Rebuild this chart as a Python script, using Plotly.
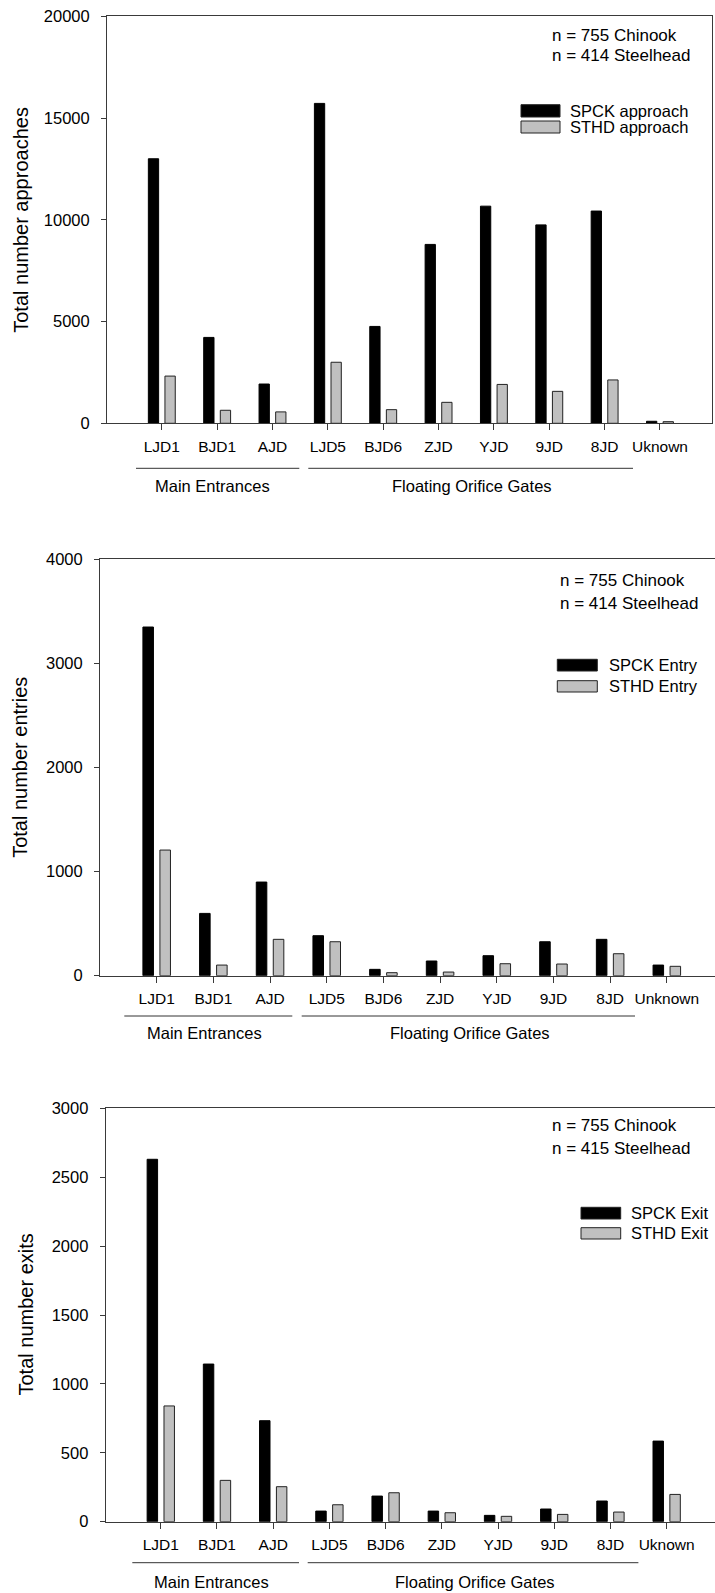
import plotly.graph_objects as go

# ---------------- data ----------------
cats_a = ["LJD1", "BJD1", "AJD", "LJD5", "BJD6", "ZJD", "YJD", "9JD", "8JD", "Uknown"]
cats_b = ["LJD1", "BJD1", "AJD", "LJD5", "BJD6", "ZJD", "YJD", "9JD", "8JD", "Unknown"]
cats_c = ["LJD1", "BJD1", "AJD", "LJD5", "BJD6", "ZJD", "YJD", "9JD", "8JD", "Uknown"]

approach_spck = [13000, 4220, 1930, 15720, 4760, 8790, 10670, 9750, 10430, 100]
approach_sthd = [2320, 640, 560, 3000, 670, 1030, 1910, 1570, 2130, 80]
entry_spck = [3347, 598, 899, 384, 61, 141, 192, 326, 349, 102]
entry_sthd = [1206, 102, 349, 326, 29, 35, 115, 112, 211, 90]
exit_spck = [2630, 1144, 733, 77, 186, 77, 46, 92, 150, 585]
exit_sthd = [840, 300, 254, 123, 210, 65, 39, 53, 70, 198]

y_titles = ["Total number approaches", "Total number entries", "Total number exits"]
legend_a = ["SPCK approach", "STHD approach"]
legend_b = ["SPCK Entry", "STHD Entry"]
legend_c = ["SPCK Exit", "STHD Exit"]
n_text_a = ["n = 755 Chinook", "n = 414 Steelhead"]
n_text_b = ["n = 755 Chinook", "n = 414 Steelhead"]
n_text_c = ["n = 755 Chinook", "n = 415 Steelhead"]
groups = ["Main Entrances", "Floating Orifice Gates"]

# ---------------- layout helpers ----------------
W, H = 715, 1593
FONT = "Liberation Sans, Arial, sans-serif"
AX = "#3a3a3a"
GRAY = "#c0c0c0"


def px(x):
    return x / W


def py(y):
    return 1 - y / H


panels = [
    dict(cats=cats_a, s1=approach_spck, s2=approach_sthd, title=y_titles[0], leg=legend_a, ntxt=n_text_a,
         xdom=[107, 712], ydom=[16.3, 423.3], xr=[-0.99, 9.94], yr=[0, 20000], dt=5000, mirror_y=True,
         title_x=21, n_x=550, n_y=[35.5, 55.5], sw_x=[521, 560], sw_y=[(104.7, 117), (121, 133)],
         lt_x=568, lt_y=[111, 127],
         gline_y=468.3, glines=[(136, 299.3), (308.3, 633)], glab_y=486, glab_x=[212.8, 472.4]),
    dict(cats=cats_b, s1=entry_spck, s2=entry_sthd, title=y_titles[1], leg=legend_b, ntxt=n_text_b,
         xdom=[100, 715], ydom=[559, 975.7], xr=[-1.0, 9.85], yr=[0, 4000], dt=1000, mirror_y=False,
         title_x=20.5, n_x=558, n_y=[580.7, 603.3], sw_x=[557.3, 597.3], sw_y=[(659.3, 671), (680.7, 692)],
         lt_x=606.7, lt_y=[665.3, 686],
         gline_y=1016, glines=[(124.3, 292.3), (301.7, 635)], glab_y=1033, glab_x=[204.3, 470]),
    dict(cats=cats_c, s1=exit_spck, s2=exit_sthd, title=y_titles[2], leg=legend_c, ntxt=n_text_c,
         xdom=[105.7, 715], ydom=[1108.3, 1521.7], xr=[-0.98, 9.86], yr=[0, 3000], dt=500, mirror_y=False,
         title_x=25.5, n_x=550, n_y=[1125.7, 1148.3], sw_x=[581, 620.7], sw_y=[(1207.3, 1219), (1227.7, 1239)],
         lt_x=629.3, lt_y=[1213.3, 1233.3],
         gline_y=1562.7, glines=[(132.3, 299), (307.7, 638.4)], glab_y=1582.3, glab_x=[211.2, 475]),
]

fig = go.Figure()
shapes = []
annotations = []

for i, p in enumerate(panels):
    k = "" if i == 0 else str(i + 1)
    xa, ya = "x" + k, "y" + k
    fig.add_trace(go.Bar(x=p["cats"], y=p["s1"], name=p["leg"][0], xaxis=xa, yaxis=ya,
                         marker=dict(color="black", line=dict(color="black", width=1)), showlegend=False))
    fig.add_trace(go.Bar(x=p["cats"], y=p["s2"], name=p["leg"][1], xaxis=xa, yaxis=ya,
                         marker=dict(color=GRAY, line=dict(color="#222", width=1)), showlegend=False))

    fig.layout["xaxis" + k] = dict(
        domain=[px(p["xdom"][0]), px(p["xdom"][1])], anchor=ya,
        type="category", categoryorder="array", categoryarray=p["cats"],
        range=p["xr"], showline=True, linecolor=AX, linewidth=1, mirror=True,
        ticks="outside", ticklen=6, tickcolor=AX, tickwidth=1,
        tickfont=dict(family=FONT, size=15.5, color="black"), ticklabelstandoff=3,
        showgrid=False, zeroline=False, fixedrange=True, automargin=False,
    )
    fig.layout["yaxis" + k] = dict(
        domain=[py(p["ydom"][1]), py(p["ydom"][0])], anchor=xa,
        range=p["yr"], tickmode="linear", tick0=0, dtick=p["dt"], tickformat="d",
        showline=True, linecolor=AX, linewidth=1, mirror=p["mirror_y"],
        ticks="outside", ticklen=5, tickcolor=AX, tickwidth=1,
        tickfont=dict(family=FONT, size=16.5, color="black"), ticklabelstandoff=8,
        showgrid=False, zeroline=False, fixedrange=True, automargin=False,
    )

    # y-axis title
    annotations.append(dict(text=p["title"], x=px(p["title_x"]), y=py((p["ydom"][0] + p["ydom"][1]) / 2),
                            xref="paper", yref="paper", textangle=-90, showarrow=False,
                            xanchor="center", yanchor="middle",
                            font=dict(family=FONT, size=20, color="black")))
    # sample size text
    for t, yy in zip(p["ntxt"], p["n_y"]):
        annotations.append(dict(text=t, x=px(p["n_x"]), y=py(yy), xref="paper", yref="paper",
                                showarrow=False, xanchor="left", yanchor="middle",
                                font=dict(family=FONT, size=17, color="black")))
    # legend (manual)
    fills = ["black", GRAY]
    for (y0, y1), fc, t, ty in zip(p["sw_y"], fills, p["leg"], p["lt_y"]):
        shapes.append(dict(type="rect", xref="paper", yref="paper",
                           x0=px(p["sw_x"][0]), x1=px(p["sw_x"][1]), y0=py(y1), y1=py(y0),
                           fillcolor=fc, line=dict(color="#222", width=1)))
        annotations.append(dict(text=t, x=px(p["lt_x"]), y=py(ty), xref="paper", yref="paper",
                                showarrow=False, xanchor="left", yanchor="middle",
                                font=dict(family=FONT, size=16.5, color="black")))
    # group lines and labels
    for (x0, x1), g, gx in zip(p["glines"], groups, p["glab_x"]):
        shapes.append(dict(type="line", xref="paper", yref="paper",
                           x0=px(x0), x1=px(x1), y0=py(p["gline_y"]), y1=py(p["gline_y"]),
                           line=dict(color="#333", width=1)))
        annotations.append(dict(text=g, x=px(gx), y=py(p["glab_y"]), xref="paper", yref="paper",
                                showarrow=False, xanchor="center", yanchor="middle",
                                font=dict(family=FONT, size=16.5, color="black")))

fig.update_layout(
    width=W, height=H, autosize=False, margin=dict(l=0, r=0, t=0, b=0, pad=0),
    paper_bgcolor="white", plot_bgcolor="white",
    barmode="group", bargap=0.4, bargroupgap=0.38,
    font=dict(family=FONT, color="black"),
    shapes=shapes, annotations=annotations, showlegend=False,
)

fig.write_html(
    "out.html",
    config={"displayModeBar": False, "responsive": False},
    post_script="document.body.style.margin='0';document.body.style.padding='0';"
                "document.body.style.overflow='hidden';",
)
